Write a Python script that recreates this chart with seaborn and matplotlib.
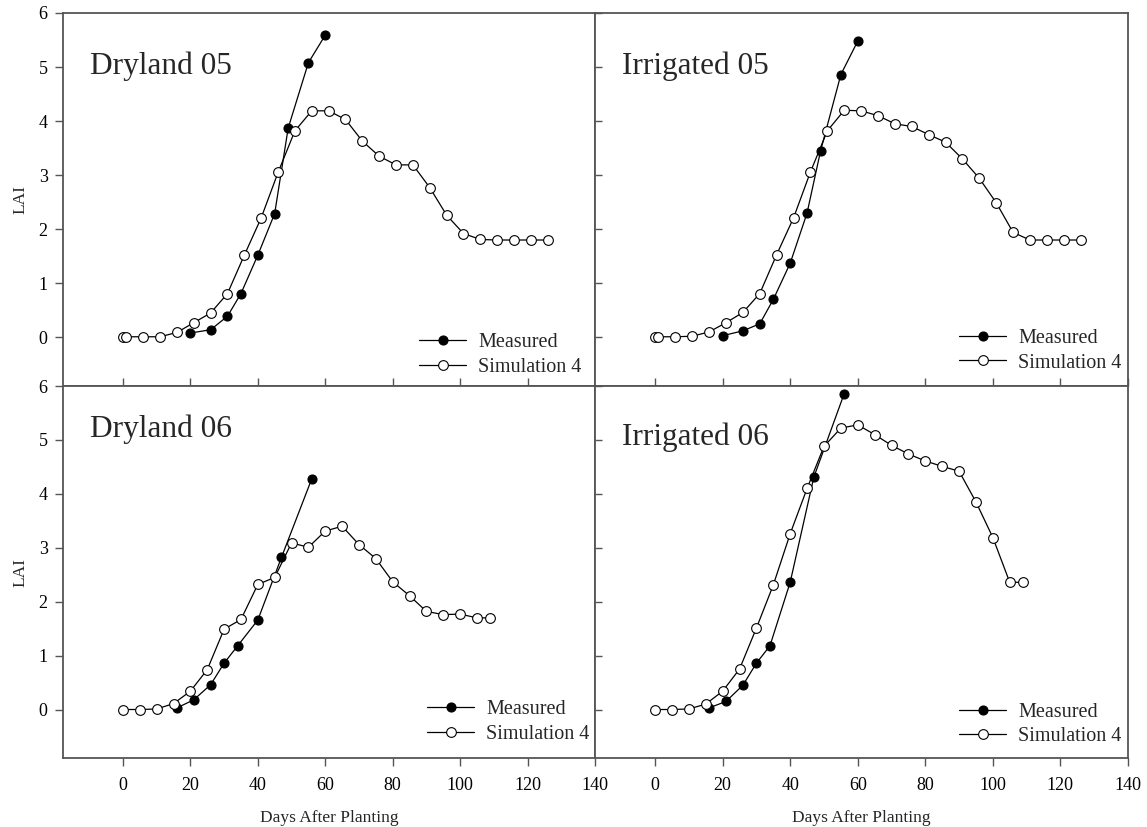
import matplotlib
matplotlib.use('Agg')
import matplotlib.pyplot as plt
import seaborn as sns
import pandas as pd

sns.set_style('ticks')
plt.rcParams['font.family'] = ['Liberation Serif', 'DejaVu Serif']

# Dryland 05
dry05_meas_days = [20, 26, 31, 35, 40, 45, 49, 55, 60]
dry05_meas_lai = [0.08, 0.14, 0.39, 0.81, 1.52, 2.29, 3.87, 5.08, 5.59]
dry05_sim_days = [0, 1, 6, 11, 16, 21, 26, 31, 36, 41, 46, 51, 56, 61, 66, 71, 76, 81, 86, 91, 96, 101, 106, 111, 116, 121, 126]
dry05_sim_lai = [0.01, 0.01, 0.01, 0.01, 0.09, 0.27, 0.45, 0.81, 1.52, 2.21, 3.05, 3.82, 4.19, 4.19, 4.03, 3.63, 3.35, 3.19, 3.19, 2.77, 2.26, 1.92, 1.81, 1.80, 1.80, 1.80, 1.80]

# Irrigated 05
irr05_meas_days = [20, 26, 31, 35, 40, 45, 49, 55, 60]
irr05_meas_lai = [0.03, 0.12, 0.25, 0.70, 1.37, 2.30, 3.45, 4.86, 5.48]
irr05_sim_days = [0, 1, 6, 11, 16, 21, 26, 31, 36, 41, 46, 51, 56, 61, 66, 71, 76, 81, 86, 91, 96, 101, 106, 111, 116, 121, 126]
irr05_sim_lai = [0.01, 0.01, 0.01, 0.02, 0.10, 0.27, 0.46, 0.81, 1.53, 2.21, 3.06, 3.82, 4.20, 4.19, 4.10, 3.95, 3.90, 3.75, 3.61, 3.30, 2.94, 2.49, 1.94, 1.80, 1.80, 1.80, 1.80]

# Dryland 06
dry06_meas_days = [16, 21, 26, 30, 34, 40, 47, 56]
dry06_meas_lai = [0.03, 0.18, 0.46, 0.86, 1.18, 1.66, 2.82, 4.28]
dry06_sim_days = [0, 5, 10, 15, 20, 25, 30, 35, 40, 45, 50, 55, 60, 65, 70, 75, 80, 85, 90, 95, 100, 105, 109]
dry06_sim_lai = [0.0, 0.0, 0.01, 0.11, 0.34, 0.74, 1.49, 1.67, 2.32, 2.45, 3.09, 3.01, 3.31, 3.40, 3.06, 2.80, 2.37, 2.11, 1.82, 1.76, 1.77, 1.70, 1.70]

# Irrigated 06
irr06_meas_days = [16, 21, 26, 30, 34, 40, 47, 56]
irr06_meas_lai = [0.03, 0.15, 0.45, 0.86, 1.18, 2.36, 4.31, 5.86]
irr06_sim_days = [0, 5, 10, 15, 20, 25, 30, 35, 40, 45, 50, 55, 60, 65, 70, 75, 80, 85, 90, 95, 100, 105, 109]
irr06_sim_lai = [0.0, 0.0, 0.01, 0.10, 0.34, 0.75, 1.51, 2.31, 3.26, 4.10, 4.88, 5.22, 5.28, 5.10, 4.90, 4.74, 4.61, 4.51, 4.42, 3.85, 3.19, 2.36, 2.36]

paineis = [
    ('Dryland 05', dry05_meas_days, dry05_meas_lai, dry05_sim_days, dry05_sim_lai),
    ('Irrigated 05', irr05_meas_days, irr05_meas_lai, irr05_sim_days, irr05_sim_lai),
    ('Dryland 06', dry06_meas_days, dry06_meas_lai, dry06_sim_days, dry06_sim_lai),
    ('Irrigated 06', irr06_meas_days, irr06_meas_lai, irr06_sim_days, irr06_sim_lai),
]

# axes boxes (fig fraction)
posicoes = [
    [0.0549, 0.5333, 0.4638, 0.4510],
    [0.5187, 0.5333, 0.4647, 0.4510],
    [0.0549, 0.0834, 0.4638, 0.4498],
    [0.5187, 0.0834, 0.4647, 0.4498],
]
titulo_y = [0.836, 0.836, 0.864, 0.841]
leg_pos = [(0.669, 0.083), (0.683, 0.094), (0.684, 0.097), (0.683, 0.090)]

fig = plt.figure(figsize=(11.47, 8.27), dpi=100)
cor_eixo = '#555555'

for i, (nome, md, ml, sd, sl) in enumerate(paineis):
    ax = fig.add_axes(posicoes[i])
    df_m = pd.DataFrame({'dias': md, 'lai': ml})
    df_s = pd.DataFrame({'dias': sd, 'lai': sl})
    sns.lineplot(data=df_m, x='dias', y='lai', ax=ax, estimator=None, sort=False,
                 color='black', lw=0.9, marker='o', markersize=6.5,
                 markerfacecolor='black', markeredgecolor='black', markeredgewidth=0.8,
                 label='Measured')
    sns.lineplot(data=df_s, x='dias', y='lai', ax=ax, estimator=None, sort=False,
                 color='black', lw=0.9, marker='o', markersize=7,
                 markerfacecolor='white', markeredgecolor='black', markeredgewidth=0.8,
                 label='Simulation 4')

    ax.set_xlim(-17.8, 140)
    ax.set_ylim(-0.9, 6)
    ax.set_xticks(range(0, 141, 20))
    ax.set_yticks(range(0, 7))

    for s in ax.spines.values():
        s.set_color(cor_eixo)
        s.set_linewidth(1.3)

    esquerda = i % 2 == 0
    baixo = i >= 2
    ax.tick_params(axis='both', colors=cor_eixo, labelcolor='black', labelsize=13, width=1, length=6)
    if esquerda:
        ax.tick_params(axis='y', direction='out', left=True, right=False, labelleft=True, pad=5)
        ax.set_ylabel('LAI', fontsize=12.5, labelpad=7)
    else:
        ax.tick_params(axis='y', direction='in', left=True, right=False, labelleft=False, length=5)
        ax.set_ylabel('')
    if baixo:
        ax.tick_params(axis='x', direction='out', bottom=True, top=False, labelbottom=True, pad=8)
        ax.set_xlabel('Days After Planting', fontsize=12.5, labelpad=11)
    else:
        ax.tick_params(axis='x', direction='in', bottom=True, top=False, labelbottom=False, length=6)
        ax.set_xlabel('')

    ax.text(0.051, titulo_y[i], nome, transform=ax.transAxes, fontsize=22.5,
            ha='left', va='baseline')

    ax.legend(loc='center left', bbox_to_anchor=leg_pos[i], frameon=False,
              fontsize=14.5, handlelength=2.35, handletextpad=0.6,
              labelspacing=0.25, borderpad=0, borderaxespad=0)

plt.savefig('out.png', dpi=100)
plt.close()
